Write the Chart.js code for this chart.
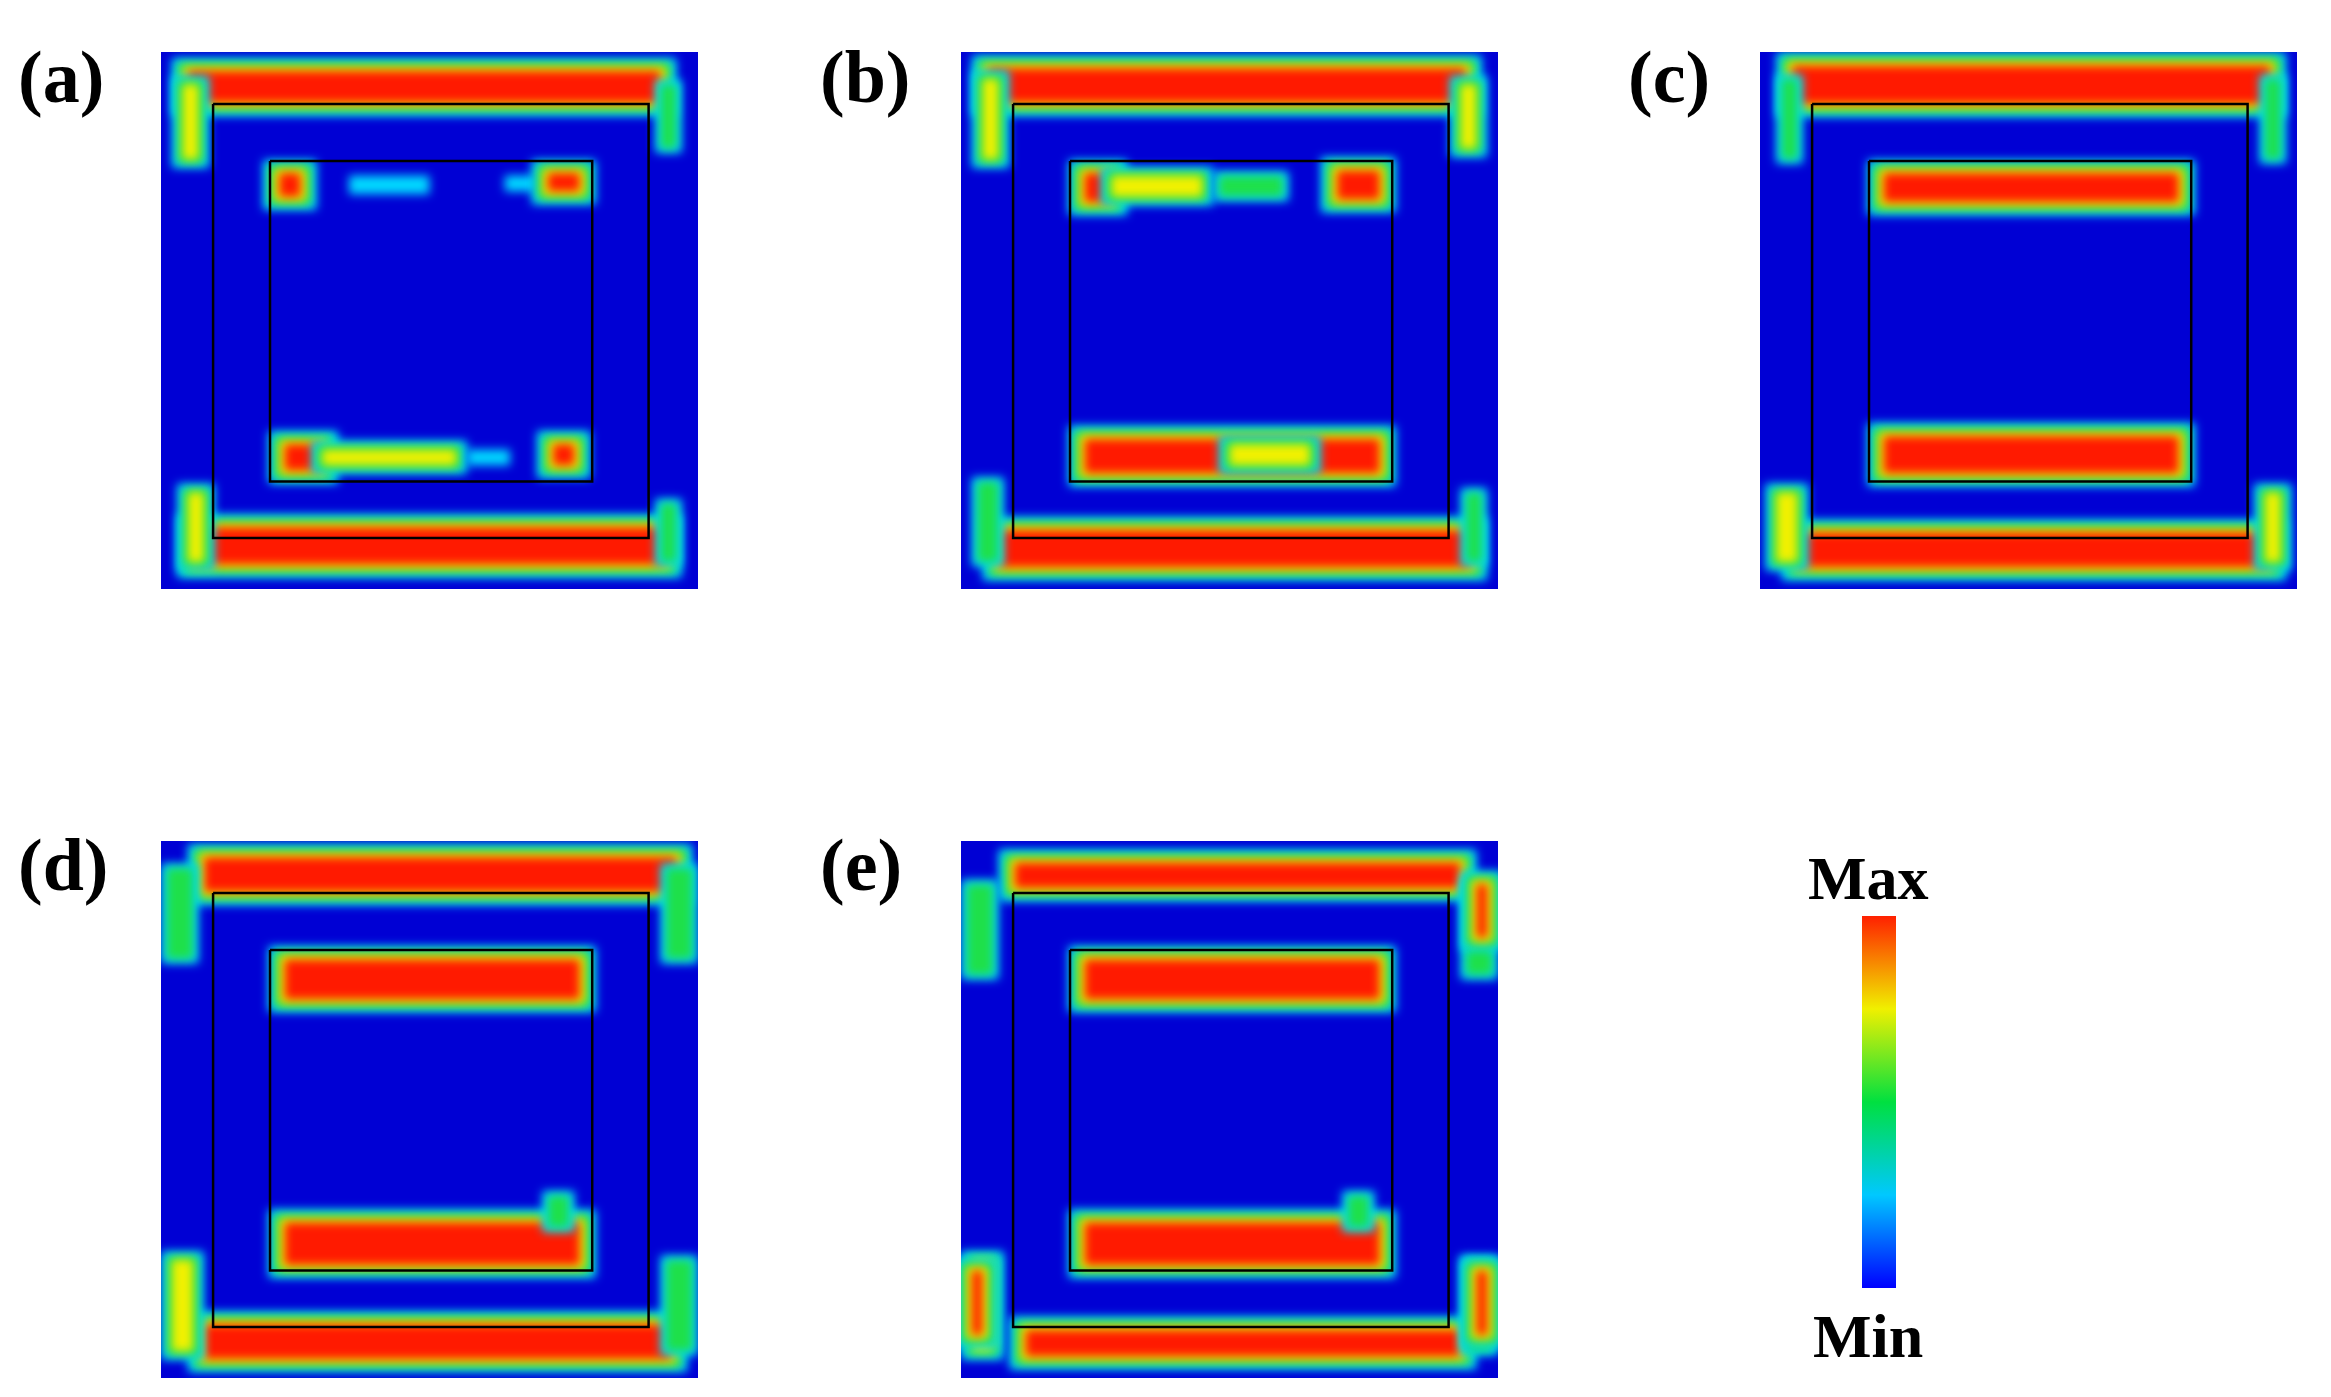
<!DOCTYPE html>
<html><head><meta charset="utf-8">
<script src="https://cdn.jsdelivr.net/npm/chart.js@4.4.1/dist/chart.umd.min.js"></script>
<style>
body{margin:0;background:#fff;width:2331px;height:1397px;position:relative;overflow:hidden;font-family:"Liberation Serif",serif}
canvas.p{position:absolute;background:#0000d4}
.lab{position:absolute;font-weight:bold;font-size:74px;line-height:1}
.cb{position:absolute;font-weight:bold;font-size:62px;line-height:1}
</style></head><body>
<script>
// panel labels + positions
const panelNames = ['(a)','(b)','(c)','(d)','(e)'];
const panelX = [161, 961, 1760, 161, 961];
const panelY = [52, 52, 52, 841, 841];
const labelX = [18, 820, 1628, 18, 820];
const labelY = [40, 40, 40, 828, 828];

// squares (units 0-100, y from top)
const outerSquare = [9.7, 90.8, 9.7, 90.5];
const innerSquare = [20.3, 80.3, 20.3, 80];

// hot regions: [x0, x1, y0, y1, level] level 4=red 3=yellow 2=green 1=cyan
const bandsA = [
  [5,93,3.5,9.5,4],[6,94,88.5,95.5,4],
  [4,7,6,20,3],[93,96,6,18,2],[5,8,82,95,3],[93,96,84,95,2],
  [22,26,22.5,27,4],[35,50,23,26.5,1],[64,70,23,26,1],[72,78,22.5,26,4],
  [23,30,73,78,4],[30,55,74,77,3],[57,65,74,77,1],[73,77,73,77,4]
];
const bandsB = [
  [5,94,3,9.5,4],[7,95,89,96,4],
  [4,7,5,20,3],[93,96,6,18,3],[3,7,80,95,2],[94,97,82,95,2],
  [23,28,22.5,28,4],[28,45,23,27,3],[48,60,23,27,2],[70,78,22,27.5,4],
  [23,78,72,78.5,4],[50,65,73,77,3]
];
const bandsC = [
  [6,95,2.5,9.7,4],[7,95,89.5,96,4],
  [4,7,5,20,2],[94,97,5,20,2],[3,7,82,95,3],[94,97,82,95,3],
  [23,78,22.5,28,4],
  [23,78,71.5,78.5,4]
];
const bandsD = [
  [8,96,3,9.5,4],[8,95,90,96.5,4],
  [1,6,5,22,2],[94,99,5,22,2],[2,6,78,95,3],[94,99,78,95,2],
  [23,78,22,29.5,4],
  [23,78,71,79,4],[72,76,66,72,2]
];
const bandsE = [
  [10,93,4,8.8,4],[12,93,91,96,4],
  [1,6,8,25,2],[94,99,8,25,2],[2,6,78,95,3],[94,99,78,95,2],
  [96,98,8,18,4],[2,4,80,92,4],[96,98,80,92,4],
  [23,78,22,29.5,4],
  [23,78,71,79,4],[72,76,66,72,2]
];
const panelBands = [bandsA, bandsB, bandsC, bandsD, bandsE];

// colour scale
const levelColors = ['#00d8ff', '#1ee04a', '#f2f000', '#ff1a00'];
const colorbarStops = ['#0000ff','#00c8ff','#00e040','#f0f000','#ff2000'];

function rect(x0,x1,y0,y1){
  return [{x:x0,y:y0},{x:x1,y:y0},{x:x1,y:y1},{x:x0,y:y1}];
}

// fills each "region" dataset as a polygon, using the points the scales placed
const regionPlugin = {
  id:'regions',
  beforeDatasetsDraw(chart){
    const ctx = chart.ctx;
    ctx.save();
    ctx.filter = 'blur(5px)';
    chart.data.datasets.forEach((ds, i) => {
      if (!ds.region) return;
      const pts = chart.getDatasetMeta(i).data;
      ctx.beginPath();
      pts.forEach((p, j) => j ? ctx.lineTo(p.x, p.y) : ctx.moveTo(p.x, p.y));
      ctx.closePath();
      ctx.fillStyle = ds.regionColor;
      ctx.fill();
    });
    ctx.restore();
  }
};

panelNames.forEach((name, i) => {
  const lab = document.createElement('div');
  lab.className = 'lab'; lab.textContent = name;
  lab.style.left = labelX[i] + 'px'; lab.style.top = labelY[i] + 'px';
  document.body.appendChild(lab);

  const c = document.createElement('canvas');
  c.className = 'p';
  c.width = 537; c.height = 537;
  c.style.left = panelX[i] + 'px'; c.style.top = panelY[i] + 'px';
  document.body.appendChild(c);

  const datasets = [];
  panelBands[i].forEach(([x0,x1,y0,y1,lvl]) => {
    for (let k = 1; k <= lvl; k++){
      const e = (lvl - k) * 1.0;
      datasets.push({
        data: rect(x0-e, x1+e, y0-e*0.8, y1+e*0.8),
        showLine:false, pointRadius:0, region:true, regionColor: levelColors[k-1]
      });
    }
  });
  [outerSquare, innerSquare].forEach(([x0,x1,y0,y1]) => {
    const pts = rect(x0,x1,y0,y1); pts.push(pts[0]);
    datasets.push({ data: pts, showLine:true, fill:false,
      pointRadius:0, borderColor:'#000', borderWidth:2.5 });
  });

  new Chart(c, {
    type:'scatter',
    data:{ datasets },
    options:{
      responsive:false, animation:false, events:[],
      layout:{ padding:0 },
      plugins:{ legend:{display:false}, tooltip:{enabled:false} },
      scales:{
        x:{ type:'linear', min:0, max:100, display:false },
        y:{ type:'linear', min:0, max:100, reverse:true, display:false }
      }
    },
    plugins:[regionPlugin]
  });
});

// colour bar
const cbLabels = ['Max','Min'];
const cb = document.createElement('canvas');
cb.width = 34; cb.height = 372;
cb.style.cssText = 'position:absolute;left:1862px;top:916px';
document.body.appendChild(cb);
new Chart(cb, {
  type:'bar',
  data:{ labels:[''], datasets:[{ data:[[0,1]], barPercentage:1, categoryPercentage:1,
    backgroundColor:(ctx) => {
      const a = ctx.chart.chartArea; if (!a) return '#00f';
      const g = ctx.chart.ctx.createLinearGradient(0, a.bottom, 0, a.top);
      colorbarStops.forEach((s, j) => g.addColorStop(j/(colorbarStops.length-1), s));
      return g;
    } }] },
  options:{ responsive:false, animation:false, events:[], layout:{padding:0},
    plugins:{legend:{display:false}, tooltip:{enabled:false}},
    scales:{ x:{display:false}, y:{display:false, min:0, max:1} } }
});
[[cbLabels[0], 847],[cbLabels[1], 1305]].forEach(([t, y]) => {
  const d = document.createElement('div');
  d.className = 'cb'; d.textContent = t;
  d.style.left = (t === 'Max' ? 1808 : 1813) + 'px'; d.style.top = y + 'px';
  document.body.appendChild(d);
});
</script>
</body></html>
